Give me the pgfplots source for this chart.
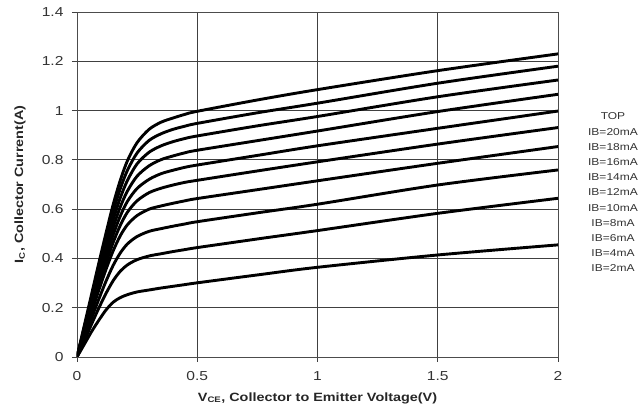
\documentclass[border=0pt]{standalone}
\usepackage{fontspec}
\setmainfont{Liberation Sans}[FakeStretch=1.2]
\usepackage{pgfplots}
\usepackage{pgfplotstable}
\pgfplotsset{compat=1.18}

% collector current (A) vs V_CE (V), one column per base current
\pgfplotstableread{
x    i20   i18   i16   i14   i12   i10   i8    i6    i4    i2
0    0     0     0     0     0     0     0     0     0     0
0.03 0.126 0.120 0.114 0.108 0.102 0.096 0.090 0.078 0.066 0.051
0.06 0.252 0.240 0.228 0.216 0.204 0.192 0.180 0.156 0.132 0.102
0.09 0.378 0.360 0.341 0.323 0.305 0.287 0.269 0.233 0.197 0.148
0.12 0.500 0.476 0.450 0.428 0.403 0.379 0.354 0.306 0.257 0.190
0.15 0.617 0.588 0.556 0.525 0.495 0.464 0.430 0.371 0.309 0.222
0.18 0.717 0.683 0.646 0.609 0.572 0.534 0.492 0.422 0.348 0.241
0.21 0.797 0.758 0.717 0.674 0.632 0.588 0.537 0.459 0.374 0.253
0.25 0.870 0.828 0.784 0.734 0.684 0.634 0.574 0.489 0.395 0.264
0.30 0.924 0.879 0.831 0.776 0.721 0.667 0.600 0.510 0.410 0.272
0.35 0.953 0.906 0.857 0.801 0.744 0.685 0.613 0.521 0.419 0.280
0.40 0.970 0.924 0.874 0.816 0.758 0.698 0.624 0.531 0.428 0.287
0.45 0.985 0.937 0.887 0.829 0.770 0.709 0.634 0.540 0.436 0.294
0.50 0.997 0.948 0.897 0.839 0.779 0.717 0.643 0.549 0.444 0.301
0.75 1.043 0.991 0.938 0.878 0.818 0.755 0.679 0.585 0.479 0.333
1.00 1.085 1.030 0.976 0.917 0.857 0.792 0.715 0.620 0.513 0.364
1.50 1.162 1.111 1.056 0.996 0.928 0.864 0.786 0.698 0.583 0.414
2.00 1.230 1.180 1.124 1.066 0.998 0.931 0.854 0.759 0.644 0.455
}\curves

\begin{document}
\begin{tikzpicture}
\begin{axis}[
    name=ax,
    width=481pt, height=345pt, scale only axis,
    xmin=0, xmax=2, ymin=0, ymax=1.4,
    xtick={0,0.5,1,1.5,2}, xticklabels={0,0.5,1,1.5,2},
    ytick={0,0.2,0.4,0.6,0.8,1,1.2,1.4},
    yticklabels={0,0.2,0.4,0.6,0.8,1,1.2,1.4},
    grid=major,
    major grid style={black!75, line width=0.9pt},
    axis line style={black!70, line width=0.9pt},
    tick style={black!75, line width=0.9pt},
    tick align=outside, major tick length=5pt, tick pos=left,
    ticklabel style={font=\fontsize{13}{15}\selectfont, text=black!80},
    xticklabel style={yshift=-6pt},
    yticklabel style={xshift=-5pt},
    /pgf/number format/assume math mode=true,
    xlabel={V\textsubscript{CE}, Collector to Emitter Voltage(V)},
    ylabel={I\textsubscript{C}, Collector Current(A)},
    xlabel style={at={(axis description cs:0.5,-0.119)}, anchor=center,
      font=\bfseries\fontsize{12}{14}\selectfont, text=black!85},
    ylabel style={at={(axis description cs:-0.1185,0.5)}, anchor=center,
      font=\bfseries\fontsize{12}{14}\selectfont, text=black!85},
    every axis plot post/.append style={black, solid, line width=2.9pt, smooth, mark=none},
  ]
\addplot table[x=x, y=i20] {\curves};
\addplot table[x=x, y=i18] {\curves};
\addplot table[x=x, y=i16] {\curves};
\addplot table[x=x, y=i14] {\curves};
\addplot table[x=x, y=i12] {\curves};
\addplot table[x=x, y=i10] {\curves};
\addplot table[x=x, y=i8] {\curves};
\addplot table[x=x, y=i6] {\curves};
\addplot table[x=x, y=i4] {\curves};
\addplot table[x=x, y=i2] {\curves};
\end{axis}
\node[align=center, text=black!80, font=\fontsize{10}{15.2}\selectfont]
  at ([xshift=536pt, yshift=164.5pt]ax.south west)
  {TOP\\IB=20mA\\IB=18mA\\IB=16mA\\IB=14mA\\IB=12mA\\IB=10mA\\IB=8mA\\IB=6mA\\IB=4mA\\IB=2mA};
\pgfresetboundingbox
\path[use as bounding box] ([xshift=-77pt, yshift=-55pt]ax.south west) rectangle ++(641pt,412pt);
\end{tikzpicture}
\end{document}
